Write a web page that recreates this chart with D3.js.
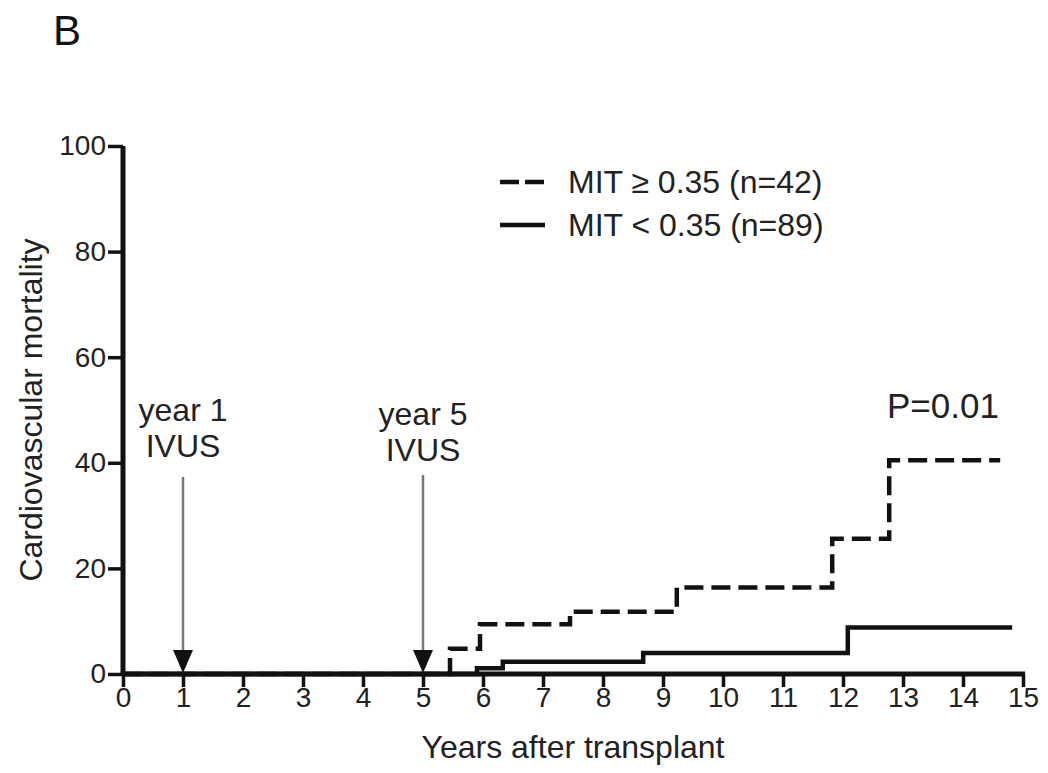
<!DOCTYPE html>
<html>
<head>
<meta charset="utf-8">
<script src="https://cdn.jsdelivr.net/npm/d3@7"></script>
<style>
  html, body { margin: 0; padding: 0; background: #fff; }
  svg { display: block; font-family: "Liberation Sans", Arial, Helvetica, sans-serif; }
</style>
</head>
<body>
<svg id="chart" width="1048" height="773"></svg>
<script>
// ---- data ----
const xTicks = [0,1,2,3,4,5,6,7,8,9,10,11,12,13,14,15];
const yTicks = [0,20,40,60,80,100];
const highTimes  = [0, 5.45, 5.95, 7.45, 9.23, 11.82, 12.77, 14.62];
const highValues = [0, 4.8, 9.4, 11.8, 16.4, 25.6, 40.5, 40.5];
const lowTimes   = [0, 5.9, 6.33, 8.67, 12.08, 14.82];
const lowValues  = [0, 1.1, 2.3, 4.0, 8.8, 8.8];
const seriesLabels = ["MIT \u2265 0.35 (n=42)", "MIT < 0.35 (n=89)"];
const markerYears = [1, 5];
const markerLines1 = ["year 1", "IVUS"];
const markerLines5 = ["year 5", "IVUS"];
const pLabel = "P=0.01";
const panelLabel = "B";
const xTitle = "Years after transplant";
const yTitle = "Cardiovascular mortality";

// ---- layout ----
const svg = d3.select("#chart");
const x = d3.scaleLinear().domain([0, 15]).range([123, 1023]);
const y = d3.scaleLinear().domain([0, 100]).range([674, 146]);

// Panel letter
svg.append("text").attr("x", 53).attr("y", 45)
  .attr("font-size", 42).attr("fill", "#111").text(panelLabel);

// Curves (drawn first so the axis covers the zero segments)
const line = d3.line().x(d => x(d[0])).y(d => y(d[1])).curve(d3.curveStepAfter);
const highData = highTimes.map((t, i) => [t, highValues[i]]);
const lowData = lowTimes.map((t, i) => [t, lowValues[i]]);

svg.append("path").datum(lowData).attr("d", line)
  .attr("fill", "none").attr("stroke", "#111").attr("stroke-width", 4.5);
svg.append("path").datum(highData).attr("d", line)
  .attr("fill", "none").attr("stroke", "#111").attr("stroke-width", 4.5)
  .attr("stroke-dasharray", "19 8");

// Axes
const xAxis = d3.axisBottom(x).tickValues(xTicks).tickSize(13).tickPadding(0).tickSizeOuter(0);
const yAxis = d3.axisLeft(y).tickValues(yTicks).tickSize(15).tickPadding(2).tickSizeOuter(0);

const gx = svg.append("g").attr("transform", `translate(0,${y(0)})`).call(xAxis);
const gy = svg.append("g").attr("transform", `translate(${x(0)},0)`).call(yAxis);
[gx, gy].forEach(g => {
  g.select(".domain").attr("stroke", "#111").attr("stroke-width", 5);
  g.selectAll(".tick line").attr("stroke", "#111").attr("stroke-width", 3.5);
  g.selectAll(".tick text").attr("fill", "#222").attr("font-size", 28)
    .attr("font-family", "'Liberation Sans', Arial, sans-serif");
});
gx.select(".domain").attr("d", `M${x(0)},0H${x(15)+2}`);
gy.select(".domain").attr("d", `M0,${y(100)}V${y(0)}`);

// Axis titles
svg.append("text").attr("x", x(7.5)).attr("y", 758).attr("text-anchor", "middle")
  .attr("font-size", 32).attr("fill", "#222").text(xTitle);
svg.append("text").attr("transform", `translate(42,${y(50)}) rotate(-90)`)
  .attr("text-anchor", "middle").attr("font-size", 32).attr("fill", "#222").text(yTitle);

// Markers (arrows)
const markerLabels = [markerLines1, markerLines5];
const markerBase = [[421, 457], [425, 461]];
const arrowTop = [477, 475];
markerYears.forEach((yr, i) => {
  const cx = x(yr);
  svg.append("line").attr("x1", cx).attr("x2", cx)
    .attr("y1", arrowTop[i]).attr("y2", y(0) - 20)
    .attr("stroke", "#777").attr("stroke-width", 2.5);
  svg.append("path")
    .attr("d", `M${cx-10},${y(0)-24}L${cx+10},${y(0)-24}L${cx},${y(0)-1}Z`)
    .attr("fill", "#111");
  markerLabels[i].forEach((t, j) => {
    svg.append("text").attr("x", cx).attr("y", markerBase[i][j])
      .attr("text-anchor", "middle").attr("font-size", 32).attr("fill", "#222").text(t);
  });
});

// P value
svg.append("text").attr("x", 887).attr("y", 418)
  .attr("font-size", 35).attr("fill", "#222").text(pLabel);

// Legend
const legendY = [182, 225];
const legendBase = [193, 236];
svg.append("line").attr("x1", 500).attr("x2", 545).attr("y1", legendY[0]).attr("y2", legendY[0])
  .attr("stroke", "#111").attr("stroke-width", 4.5).attr("stroke-dasharray", "19 6");
svg.append("line").attr("x1", 500).attr("x2", 545).attr("y1", legendY[1]).attr("y2", legendY[1])
  .attr("stroke", "#111").attr("stroke-width", 4.5);
seriesLabels.forEach((t, i) => {
  svg.append("text").attr("x", 568).attr("y", legendBase[i])
    .attr("font-size", 32).attr("fill", "#222").text(t);
});
</script>
</body>
</html>
